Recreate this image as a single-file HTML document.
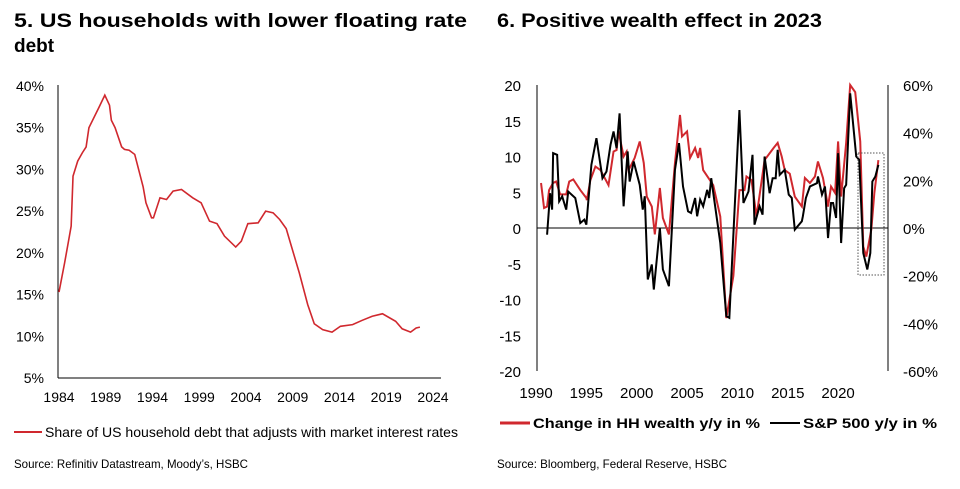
<!DOCTYPE html>
<html><head><meta charset="utf-8"><style>
body{margin:0;background:#fff;width:960px;height:484px;overflow:hidden;font-family:"Liberation Sans",Arial,sans-serif}
svg text{font-family:"Liberation Sans",Arial,sans-serif}
</style></head><body>
<svg id="s" width="960" height="484" xmlns="http://www.w3.org/2000/svg">
<text x="14" y="27" font-size="19" font-weight="bold" textLength="453" lengthAdjust="spacingAndGlyphs">5. US households with lower floating rate</text>
<text x="14" y="52" font-size="19" font-weight="bold">debt</text>
<text x="497" y="27" font-size="19" font-weight="bold" textLength="325" lengthAdjust="spacingAndGlyphs">6. Positive wealth effect in 2023</text>
<g id="L"></g><g id="R"></g>
<line x1="14" y1="432" x2="42" y2="432" stroke="#d0282e" stroke-width="2"/>
<text x="45" y="437" font-size="14" textLength="413" lengthAdjust="spacingAndGlyphs">Share of US household debt that adjusts with market interest rates</text>
<line x1="500" y1="423" x2="530" y2="423" stroke="#d0282e" stroke-width="3"/>
<text x="533" y="428" font-size="14" font-weight="bold" textLength="227" lengthAdjust="spacingAndGlyphs">Change in HH wealth y/y in %</text>
<line x1="770" y1="423" x2="800" y2="423" stroke="#000" stroke-width="2"/>
<text x="803" y="428" font-size="14" font-weight="bold" textLength="134" lengthAdjust="spacingAndGlyphs">S&amp;P 500 y/y in %</text>
<text x="14" y="468" font-size="12" textLength="234" lengthAdjust="spacingAndGlyphs">Source: Refinitiv Datastream, Moody’s, HSBC</text>
<text x="497" y="468" font-size="12" textLength="230" lengthAdjust="spacingAndGlyphs">Source: Bloomberg, Federal Reserve, HSBC</text>
</svg>
<script>
const leftYears=[1984.0,1984.6,1985.0,1985.3,1985.5,1986.0,1986.5,1986.9,1987.2,1988.3,1988.9,1989.4,1989.6,1990.0,1990.7,1991.0,1991.5,1992.1,1993.0,1993.3,1993.9,1994.1,1994.8,1995.5,1996.2,1997.1,1998.3,1999.2,2000.1,2000.9,2001.7,2002.9,2003.5,2004.2,2005.3,2006.1,2006.9,2007.6,2008.3,2008.8,2009.7,2010.6,2011.3,2012.2,2013.2,2014.1,2015.4,2016.4,2017.5,2018.6,2020.0,2020.7,2021.6,2022.2,2022.6];
const leftShare=[15.3,18.8,21.3,23.2,29.2,31,32,32.7,35,37.5,38.9,37.7,35.9,35,32.7,32.4,32.3,31.8,27.9,26,24.2,24.2,26.6,26.4,27.4,27.6,26.6,26,23.8,23.5,22,20.7,21.4,23.5,23.6,25,24.8,24,22.9,21,17.6,13.8,11.5,10.8,10.5,11.2,11.4,11.9,12.4,12.7,11.8,10.9,10.5,11,11.1];
const leftYTicks=[5,10,15,20,25,30,35,40];
const leftXTicks=[1984,1989,1994,1999,2004,2009,2014,2019,2024];

const hhYears=[1990.5,1990.8,1991.1,1991.3,1991.7,1992.0,1992.4,1993.0,1993.3,1993.7,1994.4,1995.0,1995.05,1995.4,1995.9,1996.4,1997.2,1997.7,1998.0,1998.2,1998.7,1999.0,1999.2,1999.8,2000.3,2000.7,2001.0,2001.5,2001.8,2002.3,2002.6,2003.2,2003.8,2004.3,2004.5,2005.0,2005.3,2005.8,2006.1,2006.3,2006.6,2007.6,2008.3,2008.9,2009.6,2010.2,2010.7,2010.9,2011.4,2011.9,2012.7,2013.6,2014.0,2014.4,2014.7,2015.2,2015.7,2016.4,2016.7,2017.2,2017.7,2018.0,2018.5,2019.0,2019.3,2019.7,2020.0,2020.3,2020.8,2021.2,2021.7,2022.2,2022.5,2022.8,2023.3,2023.6,2024.0];
const hhWealth=[6.3,2.8,3.0,5.3,6.3,6.5,4.7,4.7,6.5,6.8,5.3,4.2,3.9,6.7,8.6,8.1,6.0,10.7,10.9,13.5,10.0,10.7,8.1,9.8,12.1,9.1,4.4,3.0,-0.9,5.6,1.4,-0.9,9.1,15.8,12.8,13.5,9.8,11.2,9.8,11.2,8.1,6.0,1.6,-12.6,-6.7,5.3,5.3,7.2,6.7,1.6,9.5,11.2,11.9,10.0,8.1,7.6,4.4,3.0,7.0,6.3,7.2,9.3,7.0,3.0,5.8,4.9,12.1,4.4,11.9,20,19,12.1,-2.6,-4.0,-0.2,4.9,9.5];
const spYears=[1991.1,1991.4,1991.6,1991.7,1992.1,1992.3,1992.6,1993.0,1993.2,1993.9,1994.4,1994.8,1995.0,1995.5,1996.0,1996.6,1997.0,1997.4,1997.7,1998.0,1998.3,1998.7,1999.1,1999.3,1999.7,2000.3,2000.6,2000.8,2001.1,2001.5,2001.7,2002.3,2002.6,2003.2,2003.8,2004.2,2004.6,2005.1,2005.4,2005.8,2006.0,2006.3,2006.6,2007.0,2007.2,2007.4,2008.3,2008.9,2009.2,2010.2,2010.6,2011.1,2011.5,2011.7,2012.2,2012.5,2012.7,2013.2,2013.5,2013.8,2014.0,2014.2,2014.7,2015.1,2015.4,2015.7,2016.4,2016.5,2016.8,2017.2,2017.9,2018.0,2018.4,2018.7,2019.0,2019.3,2019.5,2019.8,2020.0,2020.3,2020.6,2020.8,2021.2,2021.8,2022.1,2022.5,2022.9,2023.2,2023.4,2023.7,2024.0];
const spReturn=[-2.8,14.6,7.7,31.4,30.7,11.2,13.3,7.7,15.3,12.6,2.1,3.5,1.4,26.5,37.7,20.9,23.7,34.9,40.5,33.5,48.1,9.1,32.1,19.5,27.9,18.1,7.7,13.3,-21.6,-15.3,-25.8,0,-17.4,-24.4,24.4,35.6,17.4,7.0,6.3,12.6,4.9,11.9,9.1,16.0,12.6,20.9,-6.3,-37.0,-37.7,49.5,10.5,15.3,30.7,1.4,9.1,5.6,30.0,14.6,20.9,20.9,32.8,22.3,24.4,14.0,12.6,-0.7,2.8,4.9,12.6,17.4,18.8,21.6,14.0,17.4,-4.2,10.5,10.5,4.2,31.4,-6.3,16.7,18.1,56.5,30,28.6,-10.5,-17.4,-10.5,19.5,21.6,26.5];
const rightLTicks=[-20,-15,-10,-5,0,5,10,15,20];
const rightRTicks=[-60,-40,-20,0,20,40,60];
const rightXTicks=[1990,1995,2000,2005,2010,2015,2020];

const NS="http://www.w3.org/2000/svg";
function mk(p,t,a){const e=document.createElementNS(NS,t);for(const k in a)e.setAttribute(k,a[k]);p.appendChild(e);return e;}
// Left chart
const L=document.getElementById('L');
const lx=y=>59+(y-1984)*9.35, ly=v=>378-(v-5)/35*292;
let e=mk(L,'line',{x1:58,y1:85,x2:58,y2:378,stroke:'#000','stroke-width':1});

e=mk(L,'line',{x1:58,y1:378,x2:441,y2:378,stroke:'#000','stroke-width':1});

leftYTicks.forEach(v=>{const t=mk(L,'text',{x:44,y:ly(v)+5,'font-size':14,'text-anchor':'end'});t.textContent=v+'%';
});
leftXTicks.forEach(v=>{const t=mk(L,'text',{x:lx(v),y:402,'font-size':14,'text-anchor':'middle'});t.textContent=v;
});
e=mk(L,'polyline',{points:leftYears.map((y,i)=>lx(y)+','+ly(leftShare[i])).join(' '),fill:'none',stroke:'#d0282e','stroke-width':1.6});

// Right chart
const R=document.getElementById('R');
const rx=y=>536+(y-1990)*10.07, ry=v=>228-v*7.15;
e=mk(R,'line',{x1:537,y1:85,x2:537,y2:371,stroke:'#000','stroke-width':1});

e=mk(R,'line',{x1:888,y1:85,x2:888,y2:371,stroke:'#000','stroke-width':1});

e=mk(R,'line',{x1:537,y1:ry(0),x2:888,y2:ry(0),stroke:'#000','stroke-width':1});

rightLTicks.forEach(v=>{const t=mk(R,'text',{x:521,y:ry(v)+6,'font-size':15,'text-anchor':'end'});t.textContent=v;
});
rightRTicks.forEach(v=>{const t=mk(R,'text',{x:903,y:ry(v/3)+6,'font-size':15});t.textContent=v+'%';
});
rightXTicks.forEach(v=>{const t=mk(R,'text',{x:rx(v),y:398,'font-size':15,'text-anchor':'middle'});t.textContent=v;
});
e=mk(R,'polyline',{points:hhYears.map((y,i)=>rx(y)+','+ry(Math.min(20,hhWealth[i]))).join(' '),fill:'none',stroke:'#d0282e','stroke-width':2});

e=mk(R,'polyline',{points:spYears.map((y,i)=>rx(y)+','+ry(spReturn[i]/3)).join(' '),fill:'none',stroke:'#000','stroke-width':2});

e=mk(R,'rect',{x:858,y:153,width:26,height:122,fill:'none',stroke:'#555','stroke-width':1,'stroke-dasharray':'1.5,1.5'});

</script>
</body></html>
